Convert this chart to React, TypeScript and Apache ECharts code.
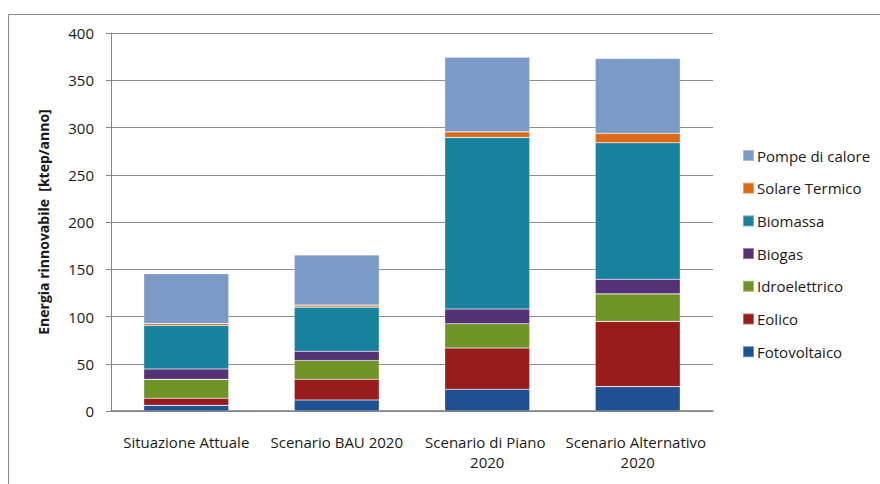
import React, { useEffect, useRef } from "react";
import * as echarts from "echarts";

const categories = [
  "Situazione Attuale",
  "Scenario BAU 2020",
  "Scenario di Piano 2020",
  "Scenario Alternativo 2020",
];
const fotovoltaico = [6, 11.7, 23, 25.8];
const eolico = [7.5, 21.9, 43.6, 69];
const idroelettrico = [20, 19.8, 25.8, 29.1];
const biogas = [11, 9.8, 15.6, 15.5];
const biomassa = [46, 46.7, 181.5, 144.4];
const solareTermico = [2, 2.1, 5.9, 9.9];
const pompeDiCalore = [52.7, 53.1, 79, 79.3];
const yTicks = [0, 50, 100, 150, 200, 250, 300, 350, 400];

const seriesDefs = [
  { name: "Fotovoltaico", data: fotovoltaico, color: "#1F5092" },
  { name: "Eolico", data: eolico, color: "#981C1C" },
  { name: "Idroelettrico", data: idroelettrico, color: "#6F9426" },
  { name: "Biogas", data: biogas, color: "#543174" },
  { name: "Biomassa", data: biomassa, color: "#17829E" },
  { name: "Solare Termico", data: solareTermico, color: "#DB6915" },
  { name: "Pompe di calore", data: pompeDiCalore, color: "#7B9AC8" },
];

const FONT = "'Open Sans', 'Noto Sans', sans-serif";
const FS = 15;

export default function App() {
  const ref = useRef<HTMLDivElement>(null);
  useEffect(() => {
    if (!ref.current) return;
    const chart = echarts.init(ref.current, undefined, { renderer: "svg" });
    chart.setOption({
      animation: false,
      backgroundColor: "#ffffff",
      textStyle: { fontFamily: FONT, color: "#1a1a1a" },
      graphic: [
        {
          type: "rect",
          shape: { x: 8.5, y: 14.5, width: 1000, height: 1000 },
          style: { fill: "none", stroke: "#8c8c8c", lineWidth: 1 },
          silent: true,
          z: -1,
        },
      ],
      grid: { left: 111, right: 167, top: 33, bottom: 73 },
      legend: {
        orient: "vertical",
        left: 742,
        top: 148,
        padding: 0,
        itemWidth: 11,
        itemHeight: 11,
        itemGap: 17.7,
        icon: "rect",
        data: seriesDefs.map((s) => s.name).reverse(),
        textStyle: { fontFamily: FONT, fontSize: FS, color: "#1a1a1a", lineHeight: 15, padding: [0, 0, 0, -2] },
      },
      xAxis: {
        type: "category",
        data: categories,
        axisLine: { lineStyle: { color: "#7f7f7f", width: 1.5 } },
        axisTick: { show: false },
        axisLabel: {
          fontFamily: FONT,
          fontSize: FS,
          color: "#1a1a1a",
          margin: 21,
          width: 148,
          overflow: "break",
          lineHeight: 20,
          interval: 0,
        },
      },
      yAxis: {
        type: "value",
        min: yTicks[0],
        max: yTicks[yTicks.length - 1],
        interval: 50,
        name: "Energia rinnovabile  [ktep/anno]",
        nameLocation: "middle",
        nameGap: 61,
        nameTextStyle: { fontFamily: FONT, fontSize: 14, fontWeight: "bold", color: "#1a1a1a" },
        axisLine: { show: true, lineStyle: { color: "#868686" } },
        axisTick: { show: true, length: 5, lineStyle: { color: "#868686" } },
        splitLine: { lineStyle: { color: "#8e8e8e", width: 1 } },
        axisLabel: { fontFamily: FONT, fontSize: FS, color: "#1a1a1a", margin: 17 },
      },
      series: seriesDefs.map((s) => ({
        name: s.name,
        type: "bar",
        stack: "total",
        barWidth: 85,
        data: s.data,
        itemStyle: {
          color: s.color,
          borderColor: "rgba(255,255,255,0.35)",
          borderWidth: 0.6,
        },
      })),
    });
    return () => chart.dispose();
  }, []);
  return (
    <div
      ref={ref}
      style={{ position: "fixed", left: 0, top: 0, width: 880, height: 484 }}
    />
  );
}
